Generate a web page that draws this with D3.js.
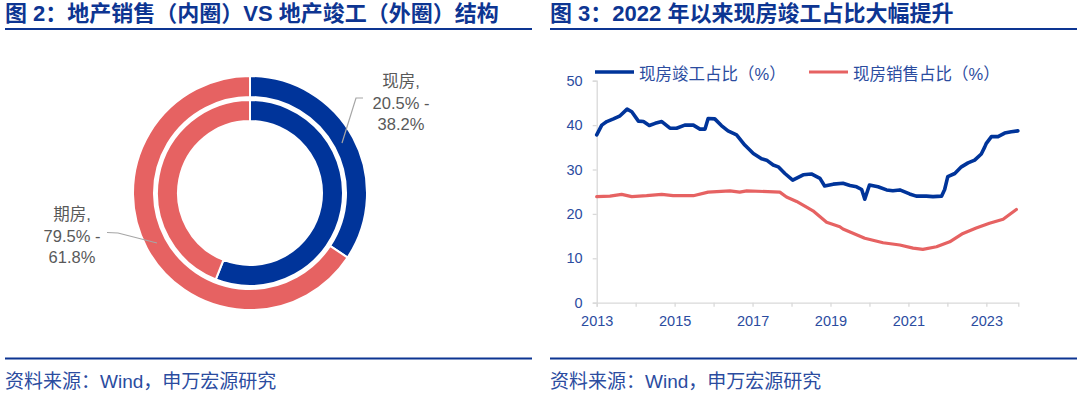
<!DOCTYPE html>
<html>
<head>
<meta charset="utf-8">
<script src="https://cdn.jsdelivr.net/npm/d3@7"></script>
<style>
  html, body { margin: 0; padding: 0; background: #fff; }
  svg { display: block; font-family: "Liberation Sans", "Noto Sans CJK SC", sans-serif; }
</style>
</head>
<body>
<div id="chart"></div>
<script>
// ---- data ----
const titles = ["图 2：地产销售（内圈）VS 地产竣工（外圈）结构", "图 3：2022 年以来现房竣工占比大幅提升"];
const source = "资料来源：Wind，申万宏源研究";

const ringCats = ["现房", "期房"];
const innerShares = [56.0, 44.0];   // 销售（内圈）
const outerShares = [34.3, 65.7];   // 竣工（外圈）
const ringLabels = [["现房,", "20.5% -", "38.2%"], ["期房,", "79.5% -", "61.8%"]];

const seriesNames = ["现房竣工占比（%）", "现房销售占比（%）"];
const compYears = [2013.0, 2013.13, 2013.26, 2013.43, 2013.6, 2013.78, 2013.9, 2014.07, 2014.2, 2014.35,
  2014.5, 2014.67, 2014.88, 2015.05, 2015.26, 2015.48, 2015.65, 2015.78, 2015.86, 2016.03,
  2016.2, 2016.37, 2016.59, 2016.8, 2017.02, 2017.23, 2017.36, 2017.53, 2017.66, 2017.83,
  2018.03, 2018.21, 2018.3, 2018.51, 2018.73, 2018.85, 2019.07, 2019.32, 2019.5, 2019.67,
  2019.8, 2019.88, 2020.0, 2020.22, 2020.44, 2020.6, 2020.78, 2021.03, 2021.2, 2021.46,
  2021.63, 2021.85, 2021.93, 2022.01, 2022.19, 2022.36, 2022.53, 2022.7, 2022.87, 2022.96,
  2023.0, 2023.13, 2023.3, 2023.47, 2023.64, 2023.81];
const compValues = [37.8, 40.0, 40.8, 41.4, 42.1, 43.6, 43.0, 40.9, 40.8, 39.9,
  40.4, 40.8, 39.3, 39.3, 40.0, 40.0, 39.1, 39.1, 41.5, 41.4,
  39.9, 38.7, 37.8, 35.5, 33.6, 32.4, 32.1, 31.0, 30.6, 29.1,
  27.6, 28.4, 28.8, 29.0, 28.0, 26.3, 26.7, 26.9, 26.4, 26.1,
  25.5, 23.3, 26.5, 26.1, 25.4, 25.2, 25.4, 24.5, 24.0, 24.0,
  23.9, 24.0, 25.5, 28.4, 29.1, 30.6, 31.5, 32.1, 33.5, 35.1,
  35.9, 37.4, 37.4, 38.2, 38.5, 38.7];
const salesYears = [2013.0, 2013.34, 2013.64, 2013.9, 2014.28, 2014.67, 2014.96, 2015.48, 2015.86, 2016.42,
  2016.67, 2016.85, 2017.7, 2017.87, 2018.13, 2018.43, 2018.55, 2018.9, 2019.24, 2019.32,
  2019.88, 2020.35, 2020.78, 2021.12, 2021.37, 2021.72, 2022.06, 2022.4, 2022.74, 2023.08,
  2023.43, 2023.77];
const salesValues = [23.9, 24.0, 24.4, 23.9, 24.1, 24.4, 24.1, 24.1, 24.9, 25.2,
  24.9, 25.2, 24.9, 23.8, 22.8, 21.3, 20.7, 18.1, 17.1, 16.6,
  14.5, 13.5, 13.0, 12.3, 12.0, 12.6, 13.7, 15.6, 16.8, 17.9,
  18.8, 21.0];
const yTicks = [0, 10, 20, 30, 40, 50];
const xLabelYears = [2013, 2015, 2017, 2019, 2021, 2023];

// ---- styles ----
const navy = "#0d3592", blue = "#00349a", red = "#e66262", tickBlue = "#2b4c9f", gray = "#595959";

const svg = d3.select("#chart").append("svg")
  .attr("width", 1080)
  .attr("height", 393);

// panel titles + rules
[[5, 532], [550, 1077]].forEach(([x0, x1], i) => {
  svg.append("text")
    .attr("x", x0).attr("y", 21)
    .attr("font-size", 22).attr("font-weight", "bold")
    .attr("fill", navy)
    .text(titles[i]);
  svg.append("line")
    .attr("x1", x0).attr("x2", x1).attr("y1", 29).attr("y2", 29)
    .attr("stroke", navy).attr("stroke-width", 2);
  svg.append("line")
    .attr("x1", x0).attr("x2", x1).attr("y1", 358.5).attr("y2", 358.5)
    .attr("stroke", navy).attr("stroke-width", 2);
  svg.append("text")
    .attr("x", x0).attr("y", 388)
    .attr("font-size", 19).attr("fill", tickBlue)
    .text(source);
});

// ---- donut ----
const colors = [blue, red];
const pie = d3.pie().sort(null).value(d => d);
const donut = svg.append("g").attr("transform", "translate(250,193)");

function ring(values, r0, r1) {
  const arc = d3.arc().innerRadius(r0).outerRadius(r1);
  donut.append("g").selectAll("path")
    .data(pie(values))
    .join("path")
      .attr("d", arc)
      .attr("fill", (d, i) => colors[i])
      .attr("stroke", "#fff")
      .attr("stroke-width", 2);
}
ring(innerShares, 72, 93);
ring(outerShares, 96, 117);

// leader lines
const leader = d3.line();
svg.append("path").attr("d", leader([[342, 143], [356, 98], [363, 98]]))
  .attr("fill", "none").attr("stroke", "#a6a6a6").attr("stroke-width", 1.2);
svg.append("path").attr("d", leader([[157, 243], [118, 233], [107, 232.5]]))
  .attr("fill", "none").attr("stroke", "#a6a6a6").attr("stroke-width", 1.2);

[[401, 81], [72, 214]].forEach(([cx, cy], i) => {
  svg.append("g").selectAll("text")
    .data(ringLabels[i])
    .join("text")
      .attr("x", cx)
      .attr("y", (d, j) => cy + j * 21.5)
      .attr("text-anchor", "middle")
      .attr("dominant-baseline", "central")
      .attr("font-size", 16.5)
      .attr("fill", gray)
      .text(d => d);
});

// ---- line chart ----
const x = d3.scaleLinear().domain([2013, 2023.82]).range([596.7, 1018.3]);
const y = d3.scaleLinear().domain([0, 50]).range([302.7, 80.7]);

const gx = svg.append("g").attr("transform", "translate(0,302.7)")
  .call(d3.axisBottom(x).tickValues(d3.range(2013, 2024)).tickSize(4).tickFormat(d => xLabelYears.includes(d) ? d : ""));
gx.select(".domain").attr("stroke", "#d9d9d9").attr("stroke-width", 1.3);
gx.selectAll(".tick line").attr("stroke", "#d9d9d9").attr("stroke-width", 1.3);
gx.selectAll(".tick text").attr("font-size", 14.5).attr("fill", tickBlue).attr("dy", "1.15em")
  .attr("font-family", "Liberation Sans, sans-serif");

const gy = svg.append("g").attr("transform", "translate(596.7,0)")
  .call(d3.axisLeft(y).tickValues(yTicks).tickSize(4).tickPadding(10));
gy.select(".domain").attr("stroke", "#d9d9d9").attr("stroke-width", 1.3);
gy.selectAll(".tick line").attr("stroke", "#d9d9d9").attr("stroke-width", 1.3);
gy.selectAll(".tick text").attr("font-size", 14.5).attr("fill", tickBlue)
  .attr("font-family", "Liberation Sans, sans-serif");

const line = d3.line().x(d => x(d[0])).y(d => y(d[1]));
svg.append("path")
  .attr("d", line(d3.zip(salesYears, salesValues)))
  .attr("fill", "none").attr("stroke", red).attr("stroke-width", 3.2)
  .attr("stroke-linejoin", "round").attr("stroke-linecap", "round");
svg.append("path")
  .attr("d", line(d3.zip(compYears, compValues)))
  .attr("fill", "none").attr("stroke", blue).attr("stroke-width", 3.6)
  .attr("stroke-linejoin", "round").attr("stroke-linecap", "round");

// legend
const legend = svg.append("g").selectAll("g")
  .data(seriesNames)
  .join("g")
    .attr("transform", (d, i) => `translate(${[595, 809][i]},72)`);
legend.append("line")
  .attr("x1", 0).attr("x2", 39).attr("y1", 0).attr("y2", 0)
  .attr("stroke", (d, i) => [blue, red][i])
  .attr("stroke-width", (d, i) => [3.6, 3.2][i]);
legend.append("text")
  .attr("x", 44).attr("y", 2)
  .attr("dominant-baseline", "central")
  .attr("font-size", 16.5).attr("fill", tickBlue)
  .text(d => d);
</script>
</body>
</html>
